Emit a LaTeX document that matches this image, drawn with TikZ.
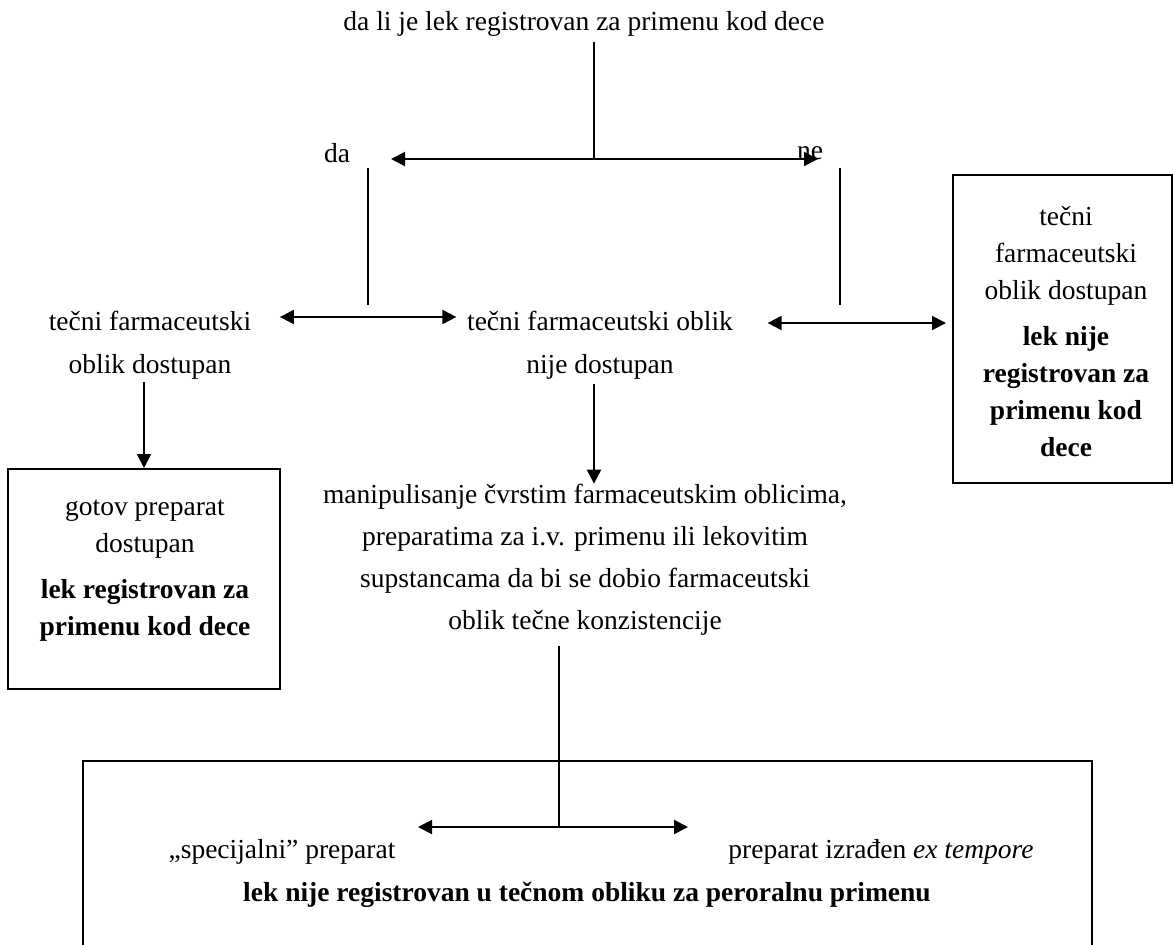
\documentclass[tikz,border=0pt]{standalone}
\usepackage{fontspec}
\setmainfont{Liberation Serif}
\usetikzlibrary{arrows.meta, fit}
\tikzset{
  txt/.style={align=center, inner sep=0pt, font=\fontsize{13.75}{21.5}\selectfont},
  boxtxt/.style={txt, font=\fontsize{13.75}{18.5}\selectfont},
  box/.style={draw, line width=1pt, inner sep=0pt},
  dbl/.style={{Triangle[length=7pt,width=7pt]}-{Triangle[length=7pt,width=7pt]}, line width=1pt},
  arr/.style={-{Triangle[length=7pt,width=7pt]}, line width=1pt}
}
\begin{document}
\begin{tikzpicture}[x=0.5pt, y=-0.5pt, line width=0.75pt]
  \useasboundingbox (0,0) rectangle (1173,944);
  % question and yes/no split
  \node[txt] (Q) at (584,24) {da li je lek registrovan za primenu kod dece};
  \node[txt] (Da) at (337,153) {da};
  \node[txt] (Ne) at (810,153) {ne};
  \coordinate (q) at (594,159);
  \coordinate (hl) at (391,159);
  \coordinate (hr) at (818,159);
  \draw ([yshift=-2.5pt]Q.south -| q) -- (q);
  \draw[dbl] (hl) -- (hr);
  \coordinate (Va) at (368,168); \coordinate (Vb) at (368,305);
  \coordinate (Wa) at (840,168); \coordinate (Wb) at (840,305);
  \draw (Va) -- (Vb);
  \draw (Wa) -- (Wb);
  % second row
  \node[txt] (L) at (150,345) {tečni farmaceutski\\oblik dostupan};
  \node[txt] (M) at (600,345) {tečni farmaceutski oblik\\nije dostupan};
  \node[box, fit={(953,175) (1172,483)}] (R) {};
  \node[boxtxt] (Rt) at (1066,332) {tečni\\farmaceutski\\oblik dostupan\\[4.5pt]\textbf{lek nije}\\\textbf{registrovan za}\\\textbf{primenu kod}\\\textbf{dece}};
  \draw[dbl] ([xshift=14pt,yshift=14pt]L.east) -- ([xshift=-5pt,yshift=14pt]M.west);
  \draw[dbl, shorten >=3pt] ([xshift=17pt,yshift=11pt]M.east) -- ([yshift=11pt]M.east -| R.west);
  % left branch
  \node[box, fit={(8,469) (280,689)}] (G) {};
  \node[boxtxt] (Gt) at (145,571) {gotov preparat\\dostupan\\[4.5pt]\textbf{lek registrovan za}\\\textbf{primenu kod dece}};
  \draw[arr] ([yshift=-1pt]L.south -| G.north) -- (G.north);
  % middle branch
  \node[txt, font=\fontsize{13.75}{21}\selectfont] (P) at (585,560) {manipulisanje čvrstim farmaceutskim oblicima,\\preparatima za i.v. primenu ili lekovitim\\supstancama da bi se dobio farmaceutski\\oblik tečne konzistencije};
  \draw[arr] ([xshift=-3pt,yshift=-2pt]M.south) -- ([xshift=-3pt]M.south |- P.north);
  % bottom box
  \node[box, fit={(83,761) (1092,960)}] (B) {};
  \node[txt] (S) at (282,852) {„specijalni” preparat};
  \node[txt] (E) at (881,852) {preparat izrađen \textit{ex tempore}};
  \node[txt] (N) at (587,895) {\textbf{lek nije registrovan u tečnom obliku za peroralnu primenu}};
  \coordinate (b) at (559,827);
  \coordinate (bl) at (418,827);
  \coordinate (br) at (688,827);
  \draw ([yshift=-5pt]P.south -| b) -- (b);
  \draw[dbl] (bl) -- (br);
\end{tikzpicture}
\end{document}
